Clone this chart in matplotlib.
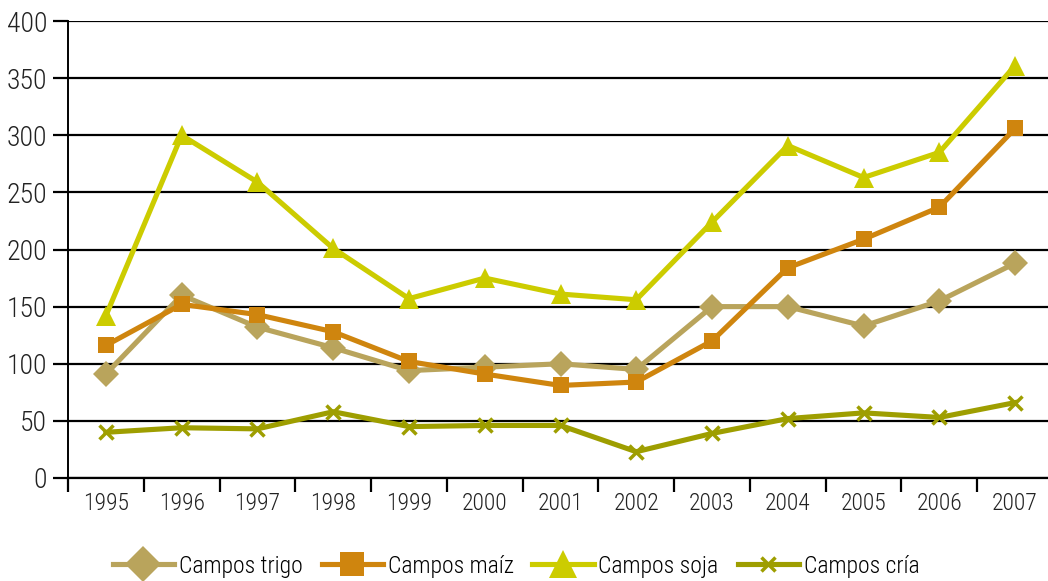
import matplotlib
matplotlib.use("Agg")
import matplotlib.pyplot as plt
from matplotlib.lines import Line2D
import numpy as np

years = ["1995", "1996", "1997", "1998", "1999", "2000", "2001",
         "2002", "2003", "2004", "2005", "2006", "2007"]

trigo = [91, 160, 132, 114, 94, 97, 100, 95, 150, 150, 133, 155, 188]
maiz = [116, 152, 143, 128, 102, 91, 81, 84, 120, 184, 209, 237, 306]
soja = [142, 300, 259, 201, 157, 175, 161, 156, 224, 291, 263, 285, 361]
cria = [40, 44, 43, 58, 45, 46, 46, 23, 39, 52, 57, 53, 66]

series = [
    ("Campos trigo", trigo, "#B9A45C", "D", 13),
    ("Campos maíz", maiz, "#CF850E", "s", 12),
    ("Campos soja", soja, "#CCCC00", "^", 15),
    ("Campos cría", cria, "#9E9E00", "x", 10),
]

plt.rcParams["font.family"] = ["Roboto Condensed", "DejaVu Sans"]
plt.rcParams["font.weight"] = 300

W, H = 1048, 581
fig = plt.figure(figsize=(W / 100, H / 100), dpi=100)
left, right, bottom, top = 68, 1053, 478, 21
ax = fig.add_axes([left / W, (H - bottom) / H, (right - left) / W, (bottom - top) / H])

x = np.arange(len(years))
LW = 3.7
for label, vals, color, marker, ms in series:
    kw = dict(markeredgewidth=2.5) if marker == "x" else dict(markeredgewidth=0)
    ax.plot(x, vals, color=color, lw=LW, marker=marker, markersize=ms,
            markerfacecolor=color, markeredgecolor=color, label=label,
            clip_on=False, zorder=3, **kw)

ax.set_xlim(-0.5, len(years) - 0.5)
ax.set_ylim(0, 400)
ax.set_yticks(np.arange(0, 401, 50))
ax.yaxis.grid(True, color="black", lw=1.6, zorder=1)
ax.set_axisbelow(True)

ax.set_xticks(x)
ax.set_xticklabels(years, fontsize=17, color="#222222")
ax.set_xticks(np.arange(-0.5, len(years), 1.0), minor=True)
ax.tick_params(axis="x", which="major", length=0, pad=10)
ax.tick_params(axis="x", which="minor", length=10, width=1.6, color="black", direction="out")
ax.tick_params(axis="y", length=11, width=1.6, color="black", labelsize=20,
               labelcolor="#222222", pad=4)

for s in ["top", "right"]:
    ax.spines[s].set_visible(False)
ax.spines["left"].set_linewidth(1.4)
ax.spines["bottom"].set_linewidth(1.6)

handles = []
for label, vals, color, marker, ms in series:
    kw = dict(markeredgewidth=2.5) if marker == "x" else dict(markeredgewidth=0)
    handles.append(Line2D([0], [0], color=color, lw=LW, marker=marker,
                          markersize=ms + 5 if marker != "x" else ms,
                          markerfacecolor=color, markeredgecolor=color, **kw))
fig.legend(handles, [s[0] for s in series], loc="center",
           bbox_to_anchor=(516 / W, (H - 566) / H), ncol=4, frameon=False,
           fontsize=17, handlelength=2.6, handletextpad=0.2, columnspacing=0.8)

fig.savefig("out.png", dpi=100, facecolor="white")
